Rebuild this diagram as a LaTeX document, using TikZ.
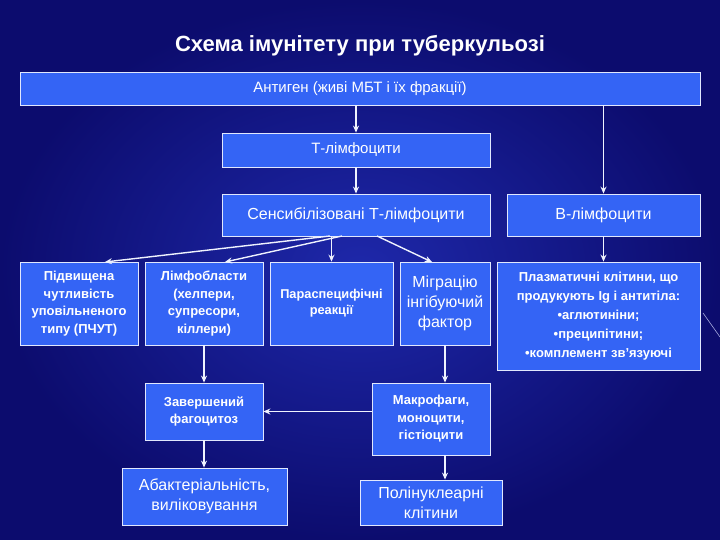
\documentclass[tikz,border=0pt]{standalone}
\usepackage{fontspec}
\setmainfont{Liberation Sans}
\usetikzlibrary{arrows.meta}
\definecolor{bg}{RGB}{12,12,110}
\definecolor{bgc}{RGB}{30,40,170}
\definecolor{boxc}{RGB}{52,100,245}
\tikzset{
 bx/.style={draw=white!85!boxc,line width=0.8pt,fill=boxc,text=white,align=center,inner sep=1pt},
 ar/.style={draw=white!92!boxc,line width=1.4pt,-{Stealth[length=7pt,width=6pt]}},
 bt/.style={font=\bfseries\fontsize{13}{17.5}\selectfont},
 rt/.style={font=\fontsize{16}{20}\selectfont},
}
\begin{document}
\begin{tikzpicture}[x=1pt,y=-1pt]
\shade[inner color=bgc,outer color=bg] (0,0) rectangle (720,540);
\useasboundingbox (0,0) rectangle (720,540);
\draw[white!60!bgc,line width=0.6pt] (703,313) -- (720,337);
\node[text=white,font=\bfseries\fontsize{22}{25}\selectfont] (title) at (360,46) {Схема імунітету при туберкульозі};
\newcommand\bxat[6]{\node[bx,#6,minimum width=#3-#2,minimum height=#5-#4] (#1) at ({(#2+#3)/2},{(#4+#5)/2})}
\bxat{ag}{20}{700}{72}{105}{font=\fontsize{15}{17}\selectfont}{Антиген (живі МБТ і їх фракції)};
\bxat{tl}{222}{490}{133}{167}{font=\fontsize{15}{17}\selectfont}{Т-лімфоцити};
\bxat{st}{222}{490}{194}{236}{rt}{Сенсибілізовані Т-лімфоцити};
\bxat{bl}{507}{700}{194}{236}{rt}{В-лімфоцити};
\bxat{pv}{20}{138}{262}{345}{bt}{Підвищена\\чутливість\\уповільненого\\типу (ПЧУТ)};
\bxat{lf}{145}{263}{262}{345}{bt}{Лімфобласти\\(хелпери,\\супресори,\\кіллери)};
\bxat{ps}{270}{393}{262}{345}{bt,font=\bfseries\fontsize{12.8}{16}\selectfont}{Параспецифічні\\реакції};
\bxat{mg}{400}{490}{262}{345}{rt}{Міграцію\\інгібуючий\\фактор};
\bxat{pl}{497}{700}{262}{370}{bt,font=\bfseries\fontsize{13}{19}\selectfont}{Плазматичні клітини, що\\продукують Ig і антитіла:\\•аглютиніни;\\•преципітини;\\•комплемент зв’язуючі};
\bxat{zf}{145}{263}{383}{440}{bt}{Завершений\\фагоцитоз};
\bxat{mk}{372}{490}{383}{455}{bt}{Макрофаги,\\моноцити,\\гістіоцити};
\bxat{ab}{122}{287}{468}{525}{rt}{Абактеріальність,\\виліковування};
\bxat{pn}{360}{502}{480}{525}{rt}{Полінуклеарні\\клітини};
\draw[ar] (ag.south -| tl.north) -- (tl.north);
\draw[ar] (ag.south -| bl.north) -- (bl.north);
\draw[ar] (tl.south) -- (st.north);
\draw[ar] (bl.south) -- (pl.north -| bl.south);
\coordinate (s1) at (330,236); \coordinate (s2) at (342,236); \coordinate (s3) at (377,236);
\coordinate (t1) at (105,262); \coordinate (t2) at (225,262); \coordinate (t3) at (432,262);
\draw[ar] (s1) -- (t1);
\draw[ar] (s2) -- (t2);
\draw[ar] (st.south -| ps.north) -- (ps.north);
\draw[ar] (s3) -- (t3);
\draw[ar] (lf.south -| zf.north) -- (zf.north);
\coordinate (m1) at (445,345);
\draw[ar] (m1) -- (m1 |- mk.north);
\draw[ar] (zf.east -| mk.west) -- (zf.east);
\draw[ar] (zf.south) -- (zf.south |- ab.north);
\coordinate (m2) at (445,455);
\draw[ar] (m2) -- (m2 |- pn.north);
\end{tikzpicture}
\end{document}
